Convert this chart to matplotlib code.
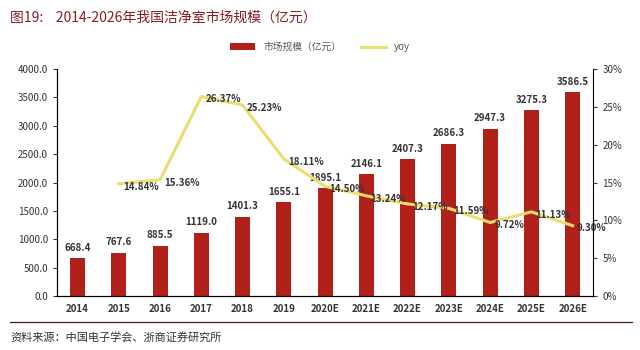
import numpy as np
import matplotlib.pyplot as plt
from matplotlib.ticker import FuncFormatter

plt.rcParams['font.family'] = ['Noto Sans CJK SC', 'DejaVu Sans']

years = ['2014', '2015', '2016', '2017', '2018', '2019', '2020E', '2021E',
         '2022E', '2023E', '2024E', '2025E', '2026E']
market = [668.4, 767.6, 885.5, 1119.0, 1401.3, 1655.1, 1895.1, 2146.1,
          2407.3, 2686.3, 2947.3, 3275.3, 3586.5]
yoy = [np.nan, 14.84, 15.36, 26.37, 25.23, 18.11, 14.50, 13.24, 12.17,
       11.59, 9.72, 11.13, 9.30]

bar_color = '#B2201A'
line_color = '#EDDC6E'
text_color = '#333333'

fig = plt.figure(figsize=(6.4, 3.5), dpi=100)
ax = fig.add_axes([0.089, 0.154, 0.838, 0.649])
ax2 = ax.twinx()

x = np.arange(len(years))
bars = ax.bar(x, market, width=0.36, color=bar_color, label='市场规模（亿元）', zorder=2)
ax.set_ylim(0, 4000)
ax.set_xlim(-0.5, len(years) - 0.5)
ax.set_yticks(np.arange(0, 4001, 500))
ax.yaxis.set_major_formatter(FuncFormatter(lambda v, p: f'{v:.1f}'))
ax.set_xticks(x)
ax.set_xticklabels(years, fontweight='bold')
for v, xi in zip(market, x):
    ax.annotate(f'{v:.1f}', (xi, v), xytext=(0, 4), textcoords='offset points',
                ha='center', va='bottom', fontsize=7, color=text_color, fontweight='bold')

line, = ax2.plot(x, yoy, color=line_color, lw=2.2, label='yoy', zorder=3)
ax2.set_ylim(0, 30)
ax2.set_yticks(np.arange(0, 31, 5))
ax2.yaxis.set_major_formatter(FuncFormatter(lambda v, p: f'{v:.0f}%'))
for v, xi in zip(yoy, x):
    if np.isnan(v):
        continue
    ax2.annotate(f'{v:.2f}%', (xi, v), xytext=(3, -2), textcoords='offset points',
                 ha='left', va='center', fontsize=7, color=text_color, fontweight='bold')

for a in (ax, ax2):
    a.spines['top'].set_visible(False)
    a.tick_params(labelsize=7, colors=text_color, length=3)
    a.tick_params(axis='x', length=0, pad=6)
ax.spines['right'].set_visible(False)

fig.legend([bars, line], ['市场规模（亿元）', 'yoy'], loc='center', ncol=2,
           bbox_to_anchor=(0.5, 0.865), frameon=False, fontsize=7,
           handlelength=2.6, columnspacing=2.0, labelcolor='#555555')

fig.text(0.016, 0.95, '图19:    2014-2026年我国洁净室市场规模（亿元）', fontsize=10,
         color='#8B1C24', va='center', ha='left')
fig.add_artist(plt.Line2D([0.016, 0.988], [0.08, 0.08], color='#4A1A1A', lw=0.9))
fig.text(0.016, 0.037, '资料来源：中国电子学会、浙商证券研究所', fontsize=8,
         color='#333333', va='center', ha='left')

fig.savefig('out.png', dpi=100)
